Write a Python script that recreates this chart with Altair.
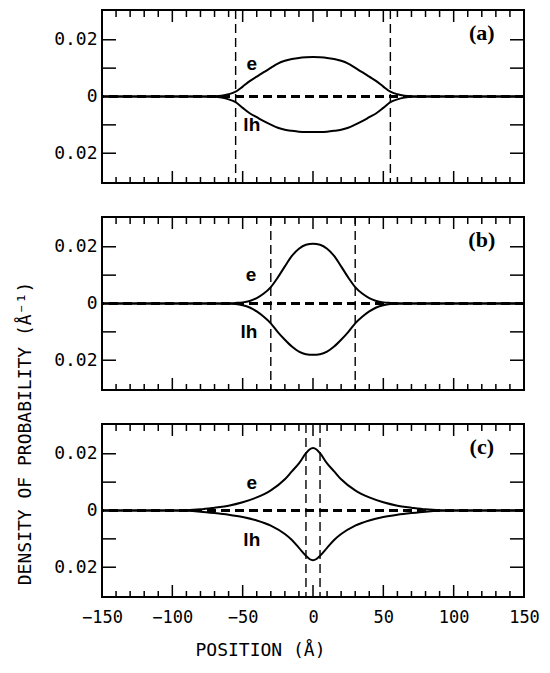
import altair as alt
import pandas as pd

# ---------------- data ----------------
pos_a = [-150, -100, -80, -70, -65, -60, -55, -50, -45, -40, -35, -30, -25, -20, -15, -10, -5, 0,
         5, 10, 15, 20, 25, 30, 35, 40, 45, 50, 55, 60, 65, 70, 80, 100, 150]
e_a = [0, 0, 0.00003, 0.0001, 0.0003, 0.0008, 0.0017, 0.0035, 0.0054, 0.0070, 0.0086, 0.0101, 0.0116,
       0.0126, 0.0132, 0.0136, 0.0138, 0.0139,
       0.0138, 0.0136, 0.0132, 0.0126, 0.0116, 0.0101, 0.0086, 0.0070, 0.0054, 0.0035, 0.0017, 0.0008,
       0.0003, 0.0001, 0.00003, 0, 0]
lh_a = [0, 0, -0.00003, -0.0001, -0.0004, -0.0010, -0.0020, -0.0040, -0.0059, -0.0073, -0.0087, -0.0099,
        -0.0110, -0.0117, -0.0121, -0.0124, -0.0125, -0.0125,
        -0.0125, -0.0124, -0.0121, -0.0117, -0.0110, -0.0099, -0.0087, -0.0073, -0.0059, -0.0040, -0.0020,
        -0.0010, -0.0004, -0.0001, -0.00003, 0, 0]

pos_b = [-150, -100, -70, -60, -55, -50, -45, -40, -35, -30, -25, -20, -15, -10, -5, 0,
         5, 10, 15, 20, 25, 30, 35, 40, 45, 50, 55, 60, 70, 100, 150]
e_b = [0, 0, 0.00002, 0.0001, 0.0002, 0.0004, 0.0009, 0.0019, 0.0035, 0.0058, 0.0092, 0.0131, 0.0168,
       0.0193, 0.0207, 0.0211,
       0.0207, 0.0193, 0.0168, 0.0131, 0.0092, 0.0058, 0.0035, 0.0019, 0.0009, 0.0004, 0.0002, 0.0001,
       0.00002, 0, 0]
lh_b = [0, 0, -0.00003, -0.0001, -0.0002, -0.0006, -0.0014, -0.0028, -0.0047, -0.0070, -0.0101, -0.0128,
        -0.0152, -0.0170, -0.0179, -0.0181,
        -0.0179, -0.0170, -0.0152, -0.0128, -0.0101, -0.0070, -0.0047, -0.0028, -0.0014, -0.0006, -0.0002,
        -0.0001, -0.00003, 0, 0]

pos_c = [-150, -110, -100, -90, -80, -70, -60, -50, -40, -30, -20, -15, -10, -5, -2.5, 0,
         2.5, 5, 10, 15, 20, 30, 40, 50, 60, 70, 80, 90, 100, 110, 150]
e_c = [0, 0, 0.00003, 0.0001, 0.0004, 0.0010, 0.0017, 0.0029, 0.0046, 0.0071, 0.0110, 0.0138, 0.0166,
       0.0202, 0.0215, 0.0220,
       0.0215, 0.0202, 0.0166, 0.0138, 0.0110, 0.0071, 0.0046, 0.0029, 0.0017, 0.0010, 0.0004, 0.0001,
       0.00003, 0, 0]
lh_c = [0, 0, -0.00003, -0.0001, -0.0004, -0.0009, -0.0015, -0.0023, -0.0035, -0.0053, -0.0083, -0.0104,
        -0.0132, -0.0160, -0.0171, -0.0175,
        -0.0171, -0.0160, -0.0132, -0.0104, -0.0083, -0.0053, -0.0035, -0.0023, -0.0015, -0.0009, -0.0004,
        -0.0001, -0.00003, 0, 0]

wells = {"a": [-55, 55], "b": [-30, 30], "c": [-5, 5]}
panel_labels = ["(a)", "(b)", "(c)"]
panel_label_pos = [120, 0.0225]
e_label_pos = {"a": [-43.5, 0.0116], "b": [-44, 0.0102], "c": [-43.5, 0.0098]}
lh_label_pos = {"a": [-43.5, -0.0102], "b": [-45.5, -0.0102], "c": [-43.5, -0.0105]}

x_major = [-150, -100, -50, 0, 50, 100, 150]
x_minor = [v for v in range(-140, 150, 10) if v % 50 != 0]
y_ticks = [-0.02, -0.01, 0, 0.01, 0.02]
y_label_values = [-0.02, 0, 0.02]

x_title = "POSITION (Å)"
y_title = "DENSITY OF PROBABILITY (Å⁻¹)"

# ---------------- chart ----------------
W, H = 422, 173
MONO = "DejaVu Sans Mono"
xs = alt.Scale(domain=[-150, 150], nice=False, zero=False)
ys = alt.Scale(domain=[-0.0305, 0.0305], nice=False, zero=False)
DASH = [9, 5]


def panel(key, pos, e, lh, label, bottom_axis, with_title):
    curves = pd.DataFrame({
        "pos": pos * 2,
        "val": e + lh,
        "series": ["e"] * len(pos) + ["lh"] * len(pos),
    })
    if bottom_axis:
        xaxis = alt.Axis(values=x_major, ticks=False, tickSize=0, domain=False, grid=False,
                         labelFont=MONO, labelFontSize=17, labelPadding=12, labelColor="black",
                         labelFlush=False,
                         title=x_title, titleFont=MONO, titleFontSize=18, titleFontWeight="normal",
                         titleColor="black", titleX=158, titleY=53, titleBaseline="middle")
    else:
        xaxis = None
    yaxis_kwargs = dict(values=y_label_values, ticks=False, tickSize=0, domain=False, grid=False,
                        labelExpr="datum.value === 0 ? '0' : format(abs(datum.value), '.2f')",
                        labelFont=MONO, labelFontSize=18, labelPadding=5, labelColor="black")
    if with_title:
        yaxis = alt.Axis(title=y_title, titleFont=MONO, titleFontSize=18, titleFontWeight="normal",
                         titleColor="black", titleAngle=270, titleX=-77, titleY=216,
                         titleAlign="center", titleBaseline="middle", **yaxis_kwargs)
    else:
        yaxis = alt.Axis(title=None, **yaxis_kwargs)

    def X(field):
        return alt.X(field, scale=xs, axis=xaxis)

    def Y(field):
        return alt.Y(field, scale=ys, axis=yaxis)

    base_curves = alt.Chart(curves)
    zero_line = base_curves.mark_rule(color="black", strokeWidth=1.4, strokeDash=DASH).encode(
        y=alt.datum(0, scale=ys, axis=yaxis)
    )
    wl = alt.Chart(pd.DataFrame({"pos": wells[key]})).mark_rule(
        color="black", strokeWidth=1.4, strokeDash=DASH
    ).encode(x=X("pos:Q"))
    lines = base_curves.mark_line(color="black", strokeWidth=2, interpolate="monotone").encode(
        x=X("pos:Q"),
        y=Y("val:Q"),
        detail="series:N",
    )
    maj = pd.DataFrame({"pos": x_major})
    mnr = pd.DataFrame({"pos": x_minor})
    yt = pd.DataFrame({"val": y_ticks})
    tick_layers = [
        alt.Chart(maj).mark_rule(color="black", strokeWidth=1.5).encode(
            x=X("pos:Q"), y=alt.value(H), y2=alt.value(H - 12)),
        alt.Chart(maj).mark_rule(color="black", strokeWidth=1.5).encode(
            x=X("pos:Q"), y=alt.value(0), y2=alt.value(12)),
        alt.Chart(mnr).mark_rule(color="black", strokeWidth=1.5).encode(
            x=X("pos:Q"), y=alt.value(H), y2=alt.value(H - 6)),
        alt.Chart(mnr).mark_rule(color="black", strokeWidth=1.5).encode(
            x=X("pos:Q"), y=alt.value(0), y2=alt.value(7)),
        alt.Chart(yt).mark_rule(color="black", strokeWidth=1.5).encode(
            y=Y("val:Q"), x=alt.value(0), x2=alt.value(14)),
        alt.Chart(yt).mark_rule(color="black", strokeWidth=1.5).encode(
            y=Y("val:Q"), x=alt.value(W), x2=alt.value(W - 14)),
    ]
    lab = pd.DataFrame({"pos": [panel_label_pos[0]], "val": [panel_label_pos[1]], "t": [label]})
    plabel = alt.Chart(lab).mark_text(font="Liberation Serif", fontWeight="bold", fontSize=22,
                                      color="black", align="center", baseline="middle").encode(
        x=X("pos:Q"), y=Y("val:Q"), text="t:N")
    sl = pd.DataFrame({
        "pos": [e_label_pos[key][0], lh_label_pos[key][0]],
        "val": [e_label_pos[key][1], lh_label_pos[key][1]],
        "t": ["e", "lh"],
    })
    slabel = alt.Chart(sl).mark_text(font="Liberation Sans", fontWeight="bold", fontSize=19,
                                     color="black", align="center", baseline="middle").encode(
        x=X("pos:Q"), y=Y("val:Q"), text="t:N")
    return alt.layer(zero_line, wl, lines, *tick_layers, plabel, slabel).properties(width=W, height=H)


pa = panel("a", pos_a, e_a, lh_a, panel_labels[0], False, False)
pb = panel("b", pos_b, e_b, lh_b, panel_labels[1], False, True)
pc = panel("c", pos_c, e_c, lh_c, panel_labels[2], True, False)

chart = alt.vconcat(pa, pb, pc, spacing=34, bounds="flush").properties(
    padding={"left": 7, "top": 0, "right": 0, "bottom": 0}
).configure(background="white").configure_view(stroke="black", strokeWidth=2)

chart.save("out.html", embed_options={"renderer": "svg", "actions": False})
